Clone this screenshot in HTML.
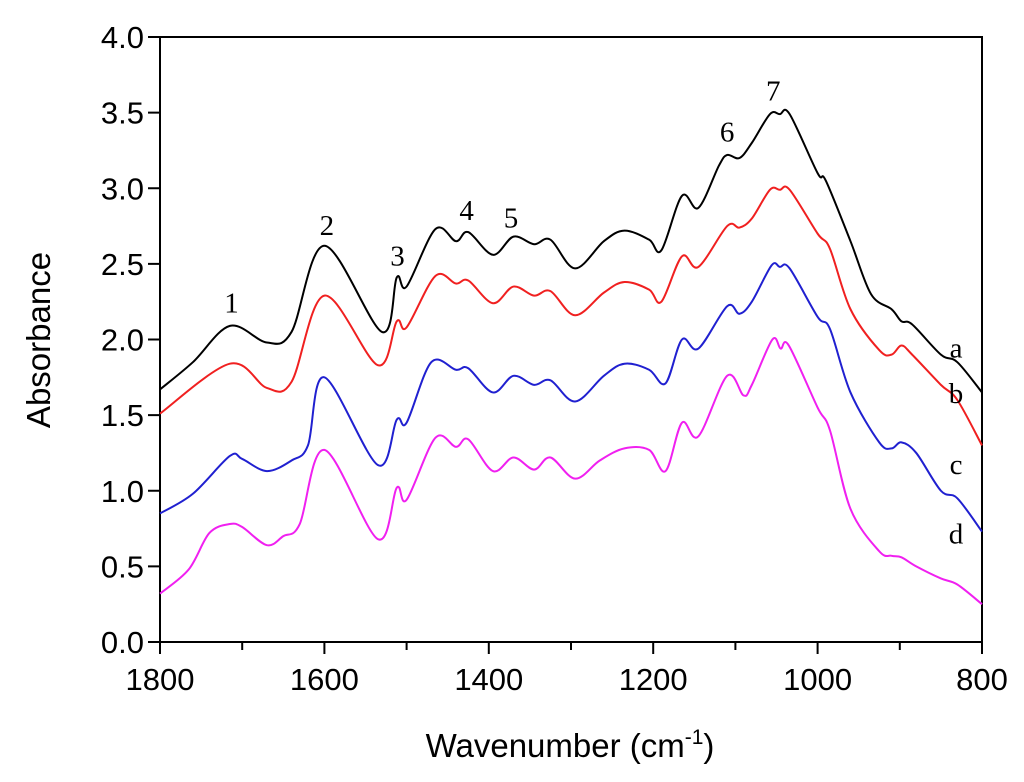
<!DOCTYPE html>
<html><head><meta charset="utf-8"><style>
body{margin:0;background:#fff;width:1024px;height:777px;overflow:hidden}
svg text{font-family:"Liberation Sans",sans-serif}
.ser{font-family:"Liberation Serif",serif;font-size:29px}
</style></head><body>
<svg id="chart" width="1024" height="777" viewBox="0 0 1024 777">
<g id="axes"></g>
<g id="plot"></g>
<text x="0" y="0" transform="translate(50,340) rotate(-90)" text-anchor="middle" font-size="33">Absorbance</text>
<text x="570" y="757" text-anchor="middle" font-size="33">Wavenumber (cm<tspan dy="-13" font-size="21">-1</tspan><tspan dy="13">)</tspan></text>
</svg>
<script>
const xTicks=[1800,1600,1400,1200,1000,800];
const xMinor=[1700,1500,1300,1100,900];
const yTicks=[0,0.5,1,1.5,2,2.5,3,3.5,4];
const wA=[1800,1760,1715,1670,1640,1600,1530,1512,1500,1465,1440,1425,1395,1370,1345,1325,1295,1260,1235,1205,1190,1165,1145,1120,1110,1095,1080,1058,1046,1034,1000,990,960,935,910,898,885,850,830,800];
const vA=[1.67,1.85,2.09,1.98,2.05,2.62,2.05,2.41,2.35,2.73,2.65,2.71,2.56,2.68,2.63,2.66,2.47,2.65,2.72,2.66,2.59,2.95,2.87,3.15,3.22,3.2,3.3,3.49,3.49,3.49,3.1,3.05,2.65,2.3,2.2,2.12,2.1,1.9,1.85,1.65];
const wB=[1800,1715,1670,1640,1600,1535,1512,1500,1465,1440,1425,1395,1370,1345,1325,1295,1260,1235,1205,1190,1165,1145,1110,1095,1080,1058,1046,1034,1000,985,960,925,910,898,885,850,830,800];
const vB=[1.51,1.84,1.68,1.72,2.29,1.83,2.12,2.08,2.42,2.37,2.39,2.24,2.35,2.29,2.32,2.16,2.31,2.38,2.33,2.25,2.55,2.48,2.75,2.74,2.8,2.99,2.99,2.99,2.7,2.6,2.2,1.93,1.9,1.96,1.9,1.7,1.6,1.3];
const wC=[1800,1760,1715,1700,1670,1640,1620,1600,1535,1512,1500,1470,1440,1425,1395,1370,1345,1325,1295,1260,1235,1205,1185,1165,1145,1110,1095,1080,1056,1046,1034,1000,985,960,925,910,898,880,850,830,800];
const vC=[0.85,0.98,1.23,1.21,1.13,1.2,1.3,1.75,1.17,1.47,1.45,1.85,1.8,1.81,1.65,1.76,1.7,1.73,1.59,1.76,1.84,1.8,1.71,2.0,1.94,2.22,2.17,2.25,2.49,2.48,2.47,2.15,2.07,1.65,1.32,1.28,1.32,1.25,1.0,0.95,0.73];
const wD=[1800,1765,1740,1715,1700,1670,1650,1630,1600,1535,1512,1500,1465,1440,1425,1395,1370,1345,1325,1295,1265,1235,1205,1185,1165,1145,1110,1090,1080,1055,1045,1035,1000,985,960,925,910,898,880,850,830,800];
const vD=[0.32,0.48,0.72,0.78,0.76,0.64,0.7,0.78,1.27,0.68,1.02,0.94,1.35,1.29,1.34,1.13,1.22,1.14,1.22,1.08,1.2,1.28,1.27,1.13,1.45,1.36,1.76,1.63,1.7,2.0,1.94,1.96,1.55,1.4,0.88,0.6,0.57,0.56,0.5,0.42,0.38,0.25];
const peakLabels=["1","2","3","4","5","6","7"];
const peakW=[1713,1597,1511,1427,1373,1110,1054];
const peakV=[2.18,2.69,2.49,2.79,2.74,3.31,3.58];
const L=160,R=982,T=37,B=642;
const X=w=>L+(1800-w)/1000*(R-L);
const Y=v=>B-v/4*(B-T);
const NS='http://www.w3.org/2000/svg';
function mk(p,t,a){const e=document.createElementNS(NS,t);for(const k in a)e.setAttribute(k,a[k]);p.appendChild(e);return e;}
const ax=document.getElementById('axes'),pl=document.getElementById('plot');
const fr=mk(ax,'rect',{x:L,y:T,width:R-L,height:B-T,fill:'none',stroke:'#000','stroke-width':2});


xTicks.forEach(t=>{const l=mk(ax,'line',{x1:X(t),x2:X(t),y1:B,y2:B+12,stroke:'#000','stroke-width':2});


const s=mk(ax,'text',{x:X(t),y:B+48,'text-anchor':'middle','font-size':31});s.textContent=t;

});
xMinor.forEach(t=>{const l=mk(ax,'line',{x1:X(t),x2:X(t),y1:B,y2:B+8,stroke:'#000','stroke-width':2});

});
yTicks.forEach(t=>{const l=mk(ax,'line',{x1:L-12,x2:L,y1:Y(t),y2:Y(t),stroke:'#000','stroke-width':2});


const s=mk(ax,'text',{x:L-16,y:Y(t)+11,'text-anchor':'end','font-size':31});s.textContent=t.toFixed(1);

});
function path(ws,vs){const p=ws.map((w,i)=>[X(w),Y(vs[i])]);let d='M'+p[0][0]+','+p[0][1];
for(let i=0;i<p.length-1;i++){const p0=p[Math.max(i-1,0)],p1=p[i],p2=p[i+1],p3=p[Math.min(i+2,p.length-1)];
d+=' C'+(p1[0]+(p2[0]-p0[0])/6)+','+(p1[1]+(p2[1]-p0[1])/6)+' '+(p2[0]-(p3[0]-p1[0])/6)+','+(p2[1]-(p3[1]-p1[1])/6)+' '+p2[0]+','+p2[1];}return d;}
const series=[[wA,vA,'#000','a',1.94],[wB,vB,'#f02020','b',1.64],[wC,vC,'#2020d0','c',1.17],[wD,vD,'#f020f0','d',0.71]];
series.forEach(s=>{const e=mk(pl,'path',{d:path(s[0],s[1]),fill:'none',stroke:s[2],'stroke-width':2});


const t=mk(pl,'text',{x:956,y:Y(s[4])+9,'text-anchor':'middle',class:'ser'});t.textContent=s[3];

});
peakLabels.forEach((p,i)=>{const t=mk(pl,'text',{x:X(peakW[i]),y:Y(peakV[i]),'text-anchor':'middle',class:'ser'});t.textContent=p;

});
</script>
</body></html>
